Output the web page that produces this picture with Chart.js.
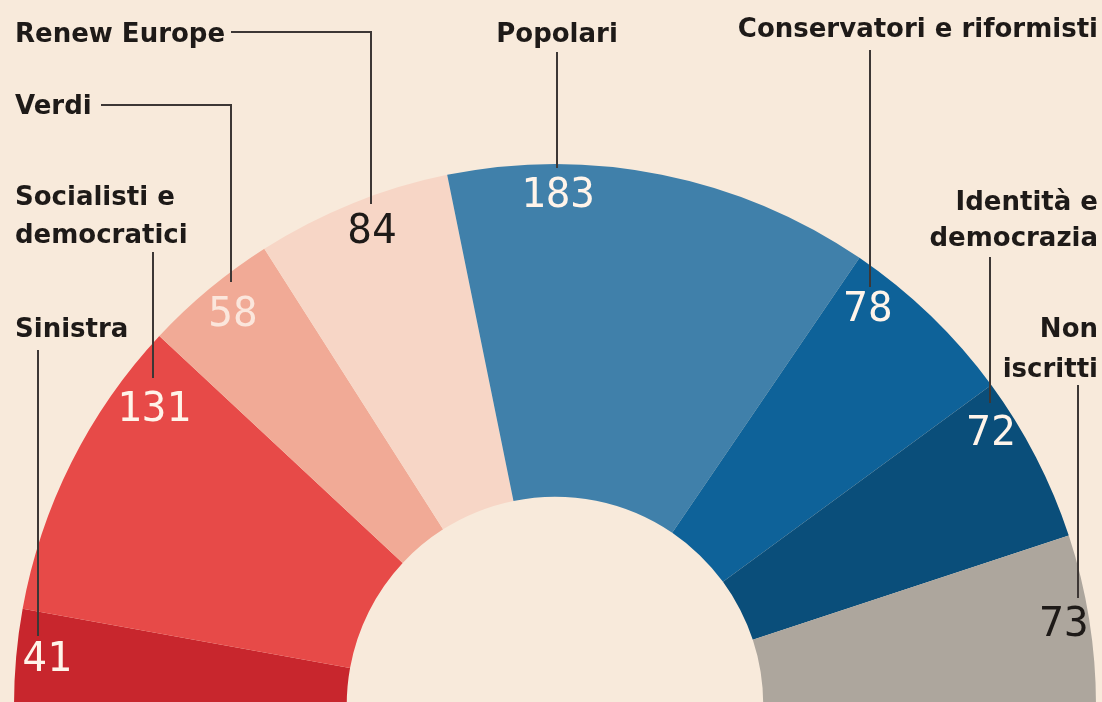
<!DOCTYPE html>
<html>
<head>
<meta charset="utf-8">
<script src="https://cdn.jsdelivr.net/npm/chart.js@4.4.1/dist/chart.umd.min.js"></script>
<style>
  html, body { margin: 0; padding: 0; background: #f8eadb; overflow: hidden; }
  #wrap { width: 1102px; height: 702px; overflow: hidden; }
</style>
</head>
<body>
<div id="wrap"><canvas id="chart" width="1102" height="720"></canvas></div>
<script>
// seats in the European Parliament, left to right
const groups = [
  "Sinistra",
  "Socialisti e democratici",
  "Verdi",
  "Renew Europe",
  "Popolari",
  "Conservatori e riformisti",
  "Identità e democrazia",
  "Non iscritti",
];
const seats = [41, 131, 58, 84, 183, 78, 72, 73];
const sliceColors = ["#c8262d", "#e74a48", "#f1aa96", "#f7d6c6", "#4080aa", "#0e6299", "#0a4e7a", "#ada69d"];
const valueColors = ["#fff4ea", "#fff4ea", "#fbe6dc", "#1e1a18", "#fff4ea", "#fff4ea", "#fff4ea", "#1e1a18"];

// annotation layout (name lines, leader lines, value position)
const labelLayout = [
  { lines: ["Sinistra"], align: "left", x: 15, y: [337], path: [[38, 350], [38, 636]], vx: 47, vy: 671 },
  { lines: ["Socialisti e", "democratici"], align: "left", x: 15, y: [205, 243], path: [[153, 252], [153, 378]], vx: 154, vy: 421 },
  { lines: ["Verdi"], align: "left", x: 15, y: [114], path: [[101, 105], [231, 105], [231, 282]], vx: 233, vy: 326 },
  { lines: ["Renew Europe"], align: "left", x: 15, y: [42], path: [[231, 32], [371, 32], [371, 204]], vx: 372, vy: 243 },
  { lines: ["Popolari"], align: "center", x: 557, y: [42], path: [[557, 52], [557, 168]], vx: 558, vy: 207 },
  { lines: ["Conservatori e riformisti"], align: "right", x: 1098, y: [37], path: [[870, 50], [870, 287]], vx: 868, vy: 321 },
  { lines: ["Identità e", "democrazia"], align: "right", x: 1098, y: [210, 246], path: [[990, 257], [990, 403]], vx: 991, vy: 445 },
  { lines: ["Non", "iscritti"], align: "right", x: 1098, y: [337, 377], path: [[1078, 385], [1078, 598]], vx: 1064, vy: 636 },
];

const annotate = {
  id: "annotate",
  afterDatasetsDraw(chart) {
    const ctx = chart.ctx;
    ctx.save();
    // leader lines
    ctx.strokeStyle = "#3d3735";
    ctx.lineWidth = 2;
    labelLayout.forEach((l) => {
      ctx.beginPath();
      l.path.forEach((p, i) => (i === 0 ? ctx.moveTo(p[0], p[1]) : ctx.lineTo(p[0], p[1])));
      ctx.stroke();
    });
    // group names
    ctx.fillStyle = "#1e1a18";
    ctx.font = "bold 26px 'DejaVu Sans'";
    ctx.textBaseline = "alphabetic";
    labelLayout.forEach((l) => {
      ctx.textAlign = l.align;
      l.lines.forEach((t, i) => ctx.fillText(t, l.x, l.y[i]));
    });
    // seat counts
    ctx.font = "41px 'DejaVu Sans Mono'";
    ctx.textAlign = "center";
    chart.getDatasetMeta(0).data.forEach((arc, i) => {
      const l = labelLayout[i];
      ctx.fillStyle = valueColors[i];
      ctx.fillText(String(chart.data.datasets[0].data[i]), l.vx, l.vy);
    });
    ctx.restore();
  },
};

const canvas = document.querySelector("#chart");
new Chart(canvas, {
  type: "doughnut",
  data: {
    labels: groups,
    datasets: [
      {
        data: seats,
        backgroundColor: sliceColors,
        borderWidth: 0,
      },
    ],
  },
  options: {
    responsive: false,
    animation: false,
    devicePixelRatio: 1,
    rotation: -90,
    circumference: 180,
    cutout: "38.5%",
    layout: {
      padding: { left: 14, right: 6, top: 164, bottom: 15 },
    },
    plugins: {
      legend: { display: false },
      tooltip: { enabled: false },
    },
  },
  plugins: [annotate],
});
</script>
</body>
</html>
